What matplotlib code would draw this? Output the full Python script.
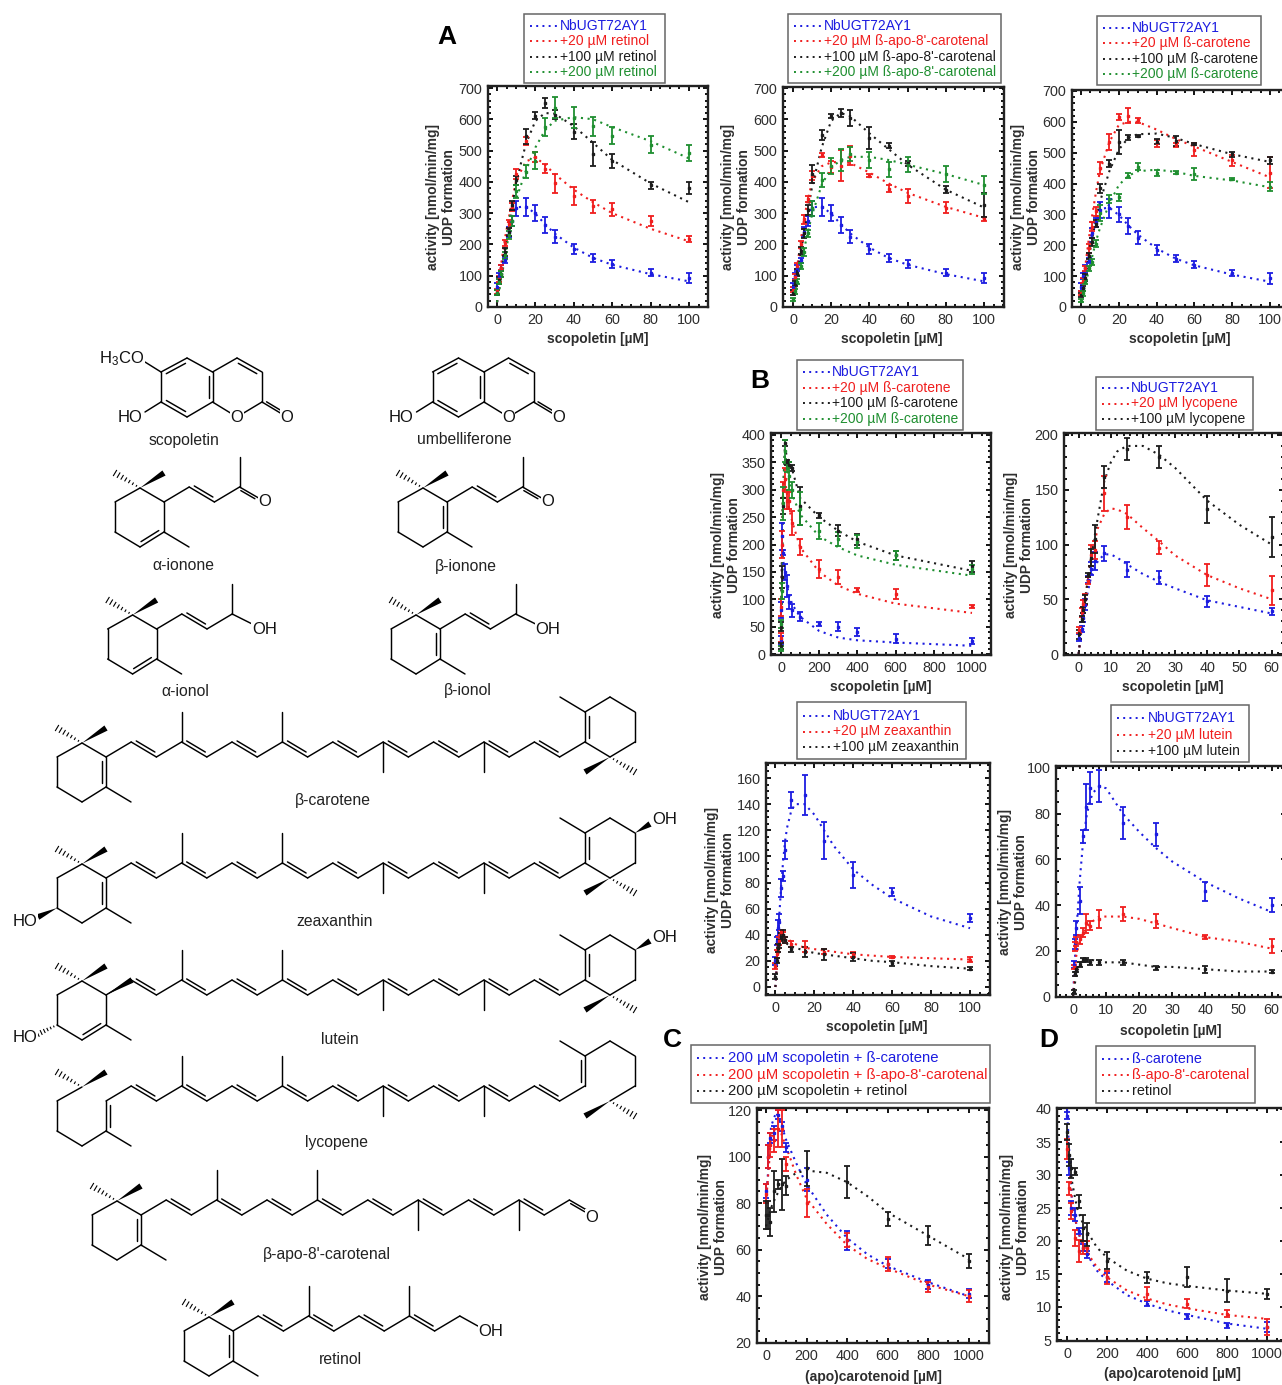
import matplotlib
matplotlib.use('Agg')
import matplotlib.pyplot as plt
from matplotlib.patches import Rectangle, Polygon
from matplotlib.ticker import MultipleLocator

plt.rcParams['font.family'] = ['Liberation Sans', 'DejaVu Sans']
plt.rcParams['mathtext.default'] = 'regular'

BLUE = '#1c1ce0'
RED = '#f01e1e'
BLACK = '#1c1c1c'
GREEN = '#1f8f30'
TXT = '#2e2e2e'

# panel A
A_x = [0, 1, 2, 4, 6, 8, 10, 15, 20, 25, 30, 40, 50, 60, 80, 100]
A_fx = [0, 2, 4, 6, 8, 10, 15, 20, 25, 30, 40, 50, 60, 80, 100]
A_blue = [65, 100, 125, 150, 240, 275, 315, 320, 300, 262, 225, 185, 157, 137, 110, 93]
A_blue_e = [12, 10, 10, 8, 15, 15, 25, 30, 25, 27, 22, 15, 12, 12, 10, 17]
A_blue_f = [15, 110, 190, 255, 295, 318, 322, 298, 265, 235, 190, 157, 135, 105, 82]

A1_red = [50, 90, 125, 205, 265, 320, 425, 530, 480, 442, 395, 355, 322, 312, 275, 218]
A1_red_e = [8, 10, 8, 10, 12, 12, 15, 12, 15, 15, 30, 30, 20, 20, 15, 10]
A1_red_f = [15, 130, 215, 280, 345, 405, 465, 478, 455, 425, 375, 335, 300, 250, 210]
A1_blk = [45, 85, 105, 175, 240, 325, 405, 545, 612, 652, 615, 560, 490, 467, 389, 380]
A1_blk_e = [8, 10, 10, 12, 12, 15, 15, 25, 12, 17, 15, 24, 38, 22, 12, 18]
A1_blk_f = [15, 95, 180, 255, 325, 400, 520, 595, 620, 618, 578, 525, 470, 395, 335]
A1_grn = [45, 80, 105, 165, 230, 275, 370, 433, 468, 575, 637, 605, 577, 548, 518, 492]
A1_grn_e = [8, 8, 10, 10, 12, 15, 20, 20, 26, 28, 33, 34, 30, 28, 27, 26]
A1_grn_f = [15, 80, 155, 225, 290, 345, 435, 510, 565, 595, 607, 600, 575, 530, 475]

A2_red = [55, 95, 130, 200, 280, 345, 420, 485, 448, 452, 484, 420, 378, 355, 318, 282]
A2_red_e = [8, 10, 10, 12, 15, 10, 15, 7, 20, 50, 30, 4, 12, 22, 18, 6]
A2_red_f = [15, 120, 210, 290, 350, 400, 450, 462, 465, 460, 430, 395, 365, 320, 285]
A2_blk = [45, 75, 110, 180, 235, 310, 425, 550, 610, 620, 605, 540, 515, 460, 375, 325]
A2_blk_e = [8, 8, 10, 12, 15, 15, 30, 15, 6, 12, 25, 35, 8, 8, 12, 38]
A2_blk_f = [15, 95, 170, 245, 315, 385, 510, 595, 620, 610, 555, 505, 455, 375, 318]
A2_grn = [25, 50, 80, 130, 175, 235, 315, 405, 450, 470, 490, 470, 440, 455, 425, 390]
A2_grn_e = [5, 8, 8, 10, 12, 12, 25, 22, 25, 35, 22, 25, 25, 25, 25, 28]
A2_grn_f = [15, 70, 130, 190, 245, 295, 390, 445, 470, 480, 480, 470, 455, 425, 390]

A3_red = [45, 85, 125, 190, 260, 310, 450, 535, 615, 620, 605, 530, 525, 510, 475, 435]
A3_red_e = [6, 8, 8, 15, 15, 15, 20, 25, 10, 25, 8, 12, 8, 20, 18, 50]
A3_red_f = [15, 120, 215, 300, 375, 440, 535, 590, 600, 600, 575, 545, 520, 470, 420]
A3_blk = [40, 60, 95, 165, 210, 270, 385, 465, 535, 550, 555, 535, 538, 528, 495, 475]
A3_blk_e = [6, 8, 12, 10, 12, 12, 15, 10, 40, 8, 3, 8, 15, 4, 8, 12]
A3_blk_f = [15, 85, 155, 225, 285, 340, 440, 510, 548, 560, 562, 548, 528, 495, 470]
A3_grn = [20, 45, 80, 125, 145, 205, 305, 350, 355, 425, 455, 435, 435, 430, 415, 390]
A3_grn_e = [5, 8, 6, 8, 10, 12, 25, 12, 10, 8, 12, 10, 5, 20, 3, 15]
A3_grn_f = [15, 65, 115, 165, 215, 255, 335, 395, 425, 440, 445, 438, 425, 410, 388]

# panel B, beta-carotene over a wide range
B1_x = [1, 2, 5, 10, 20, 30, 40, 60, 100, 200, 300, 400, 600, 1000]
B1_fx = [0, 5, 10, 20, 40, 60, 100, 200, 300, 400, 600, 1000]
B1_blue = [25, 80, 215, 185, 150, 125, 95, 80, 68, 55, 50, 40, 28, 24]
B1_blue_e = [8, 15, 25, 5, 15, 20, 12, 12, 8, 4, 8, 7, 8, 6]
B1_blue_f = [5, 190, 175, 150, 110, 90, 68, 42, 30, 25, 21, 15]
B1_red = [30, 85, 200, 300, 320, 280, 280, 240, 195, 155, 140, 117, 110, 87]
B1_red_e = [8, 15, 25, 15, 20, 15, 15, 22, 15, 17, 13, 3, 9, 3]
B1_red_f = [5, 190, 290, 320, 270, 240, 195, 150, 125, 110, 92, 75]
B1_blk = [15, 50, 140, 270, 385, 350, 345, 340, 270, 253, 225, 210, 180, 160]
B1_blk_e = [5, 8, 20, 15, 5, 5, 5, 5, 35, 5, 10, 10, 8, 10]
B1_blk_f = [5, 150, 290, 375, 350, 335, 285, 250, 225, 205, 180, 152]
B1_grn = [10, 55, 115, 275, 370, 340, 325, 300, 265, 225, 210, 205, 180, 155]
B1_grn_e = [5, 8, 15, 30, 20, 8, 25, 15, 30, 15, 12, 12, 8, 8]
B1_grn_f = [5, 130, 275, 370, 320, 290, 255, 215, 195, 180, 163, 143]

# panel B, lycopene
B2_x = [0.2, 1, 1.5, 2, 3, 4, 5, 8, 15, 25, 40, 60]
B2_fx = [0, 1, 2, 4, 6, 8, 10, 12, 15, 20, 25, 30, 40, 50, 60]
B2_blue = [15, 23, 33, 45, 68, 78, 85, 92, 77, 70, 48, 39]
B2_blue_e = [3, 3, 4, 5, 3, 6, 8, 7, 7, 6, 5, 3]
B2_blue_f = [0, 26, 45, 72, 85, 91, 91, 88, 82, 73, 66, 60, 49, 43, 37]
B2_red = [22, 38, 46, 50, 67, 90, 95, 147, 125, 97, 72, 58]
B2_red_e = [3, 4, 3, 5, 3, 10, 8, 16, 11, 6, 10, 13]
B2_red_f = [0, 25, 50, 90, 115, 128, 133, 132, 128, 115, 103, 90, 72, 60, 50]
B2_blk = [18, 32, 40, 50, 72, 88, 105, 162, 187, 180, 132, 107]
B2_blk_e = [4, 3, 3, 4, 2, 8, 13, 10, 10, 10, 12, 18]
B2_blk_f = [0, 25, 50, 90, 125, 158, 175, 185, 190, 190, 182, 170, 140, 118, 100]

# panel B, zeaxanthin
B3_x = [0, 1, 1.5, 2, 3, 4, 5, 8, 15, 25, 40, 60, 100]
B3_fx = [0, 1, 2, 3, 4, 5, 6, 8, 10, 15, 20, 25, 30, 40, 50, 60, 80, 100]
B3_blue = [20, 35, 45, 50, 76, 85, 105, 143, 147, 112, 86, 73, 53]
B3_blue_e = [3, 3, 6, 6, 7, 4, 7, 6, 15, 14, 10, 3, 3]
B3_blue_f = [0, 30, 55, 78, 97, 112, 122, 134, 140, 140, 132, 120, 108, 90, 78, 68, 54, 45]
B3_red = [16, 25, 30, 35, 42, 40, 36, 33, 31, 27, 25, 23, 21]
B3_red_e = [2, 3, 3, 3, 2, 2, 2, 2, 4, 2, 2, 1, 2]
B3_red_f = [0, 22, 33, 38, 39, 38, 37, 35, 33, 30, 29, 28, 27, 25, 24, 23, 22, 21]
B3_blk = [8, 20, 30, 33, 38, 40, 36, 29, 27, 25, 23, 18, 14]
B3_blk_e = [2, 2, 3, 3, 3, 4, 2, 2, 4, 4, 3, 2, 1]
B3_blk_f = [0, 20, 31, 35, 36, 35, 33, 31, 30, 28, 26, 25, 24, 22, 20, 19, 16, 14]

# panel B, lutein
B4_x = [0.2, 0.5, 1, 2, 3, 4, 5, 8, 15, 25, 40, 60]
B4_fx = [0, 1, 2, 3, 4, 5, 6, 8, 10, 15, 20, 25, 30, 40, 50, 60]
B4_blue = [14, 23, 30, 42, 70, 83, 91, 92, 76, 71, 46, 40]
B4_blue_e = [1.5, 2, 3, 6, 3, 10, 7, 7, 7, 5, 4, 3]
B4_blue_f = [0, 28, 50, 67, 78, 85, 89, 92, 91, 80, 72, 65, 59, 50, 43, 37]
B4_red = [13, 22, 24, 25, 28, 32, 31, 34, 36, 33, 26, 22]
B4_red_e = [1, 2, 2, 2, 2, 4, 2, 4, 3, 3, 1, 3]
B4_red_f = [0, 18, 24, 27, 30, 32, 33, 35, 35, 35, 34, 32, 30, 26, 24, 21]
B4_blk = [2, 10, 12, 14, 16, 16, 15, 15, 15, 12.5, 12, 11]
B4_blk_e = [1, 1, 1, 1, 1, 1, 1, 1, 1, 0.7, 1.5, 0.5]
B4_blk_f = [0, 10, 14, 15, 16, 16, 16, 15, 15, 15, 14, 13, 13, 12, 11, 11]

# panels C and D
CD_x = [1, 10, 20, 40, 60, 80, 100, 200, 400, 600, 800, 1000]
CD_fx = [0, 25, 50, 75, 100, 150, 200, 300, 400, 500, 600, 800, 1000]
C_blue = [85, 100, 108, 110, 118, 113, 104, 90, 64, 54, 45, 41]
C_blue_e = [3, 5, 2, 3, 2, 2, 2, 5, 4, 2, 2, 2]
C_blue_f = [80, 113, 119, 114, 107, 97, 88, 75, 65, 58, 53, 46, 40]
C_red = [84, 100, 105, 107, 112, 112, 97, 80, 64, 54, 44, 40]
C_red_e = [4, 5, 5, 5, 8, 8, 3, 6, 3, 3, 2, 2.5]
C_red_f = [80, 108, 113, 110, 104, 92, 82, 71, 62, 56, 52, 45, 40]
C_blk = [75, 75, 72, 85, 88, 88, 87.5, 95, 89, 73, 66, 55]
C_blk_e = [6, 6, 6, 9, 2, 11, 4, 7.5, 7, 3, 4, 3]
C_blk_f = [70, 78, 83, 87, 90, 93, 94, 93, 89, 83, 76, 66, 56]

D_blue = [39, 31, 25, 24, 21.5, 19, 18, 14.5, 10.5, 8.6, 7.2, 7]
D_blue_e = [0.5, 1, 1, 1, 0.5, 0.5, 0.5, 0.7, 0.4, 0.4, 0.4, 0.8]
D_blue_f = [40, 26, 22, 19.5, 18, 15.5, 14, 11.8, 10.5, 9.5, 8.8, 7.5, 6.7]
D_red = [34, 28, 24.5, 20.5, 18.5, 19, 19, 14.5, 12, 10.5, 9, 7]
D_red_e = [1.5, 1, 1.2, 1.2, 1.7, 1, 1, 1, 1, 0.7, 0.5, 1.2]
D_red_f = [36, 26, 22, 19.8, 18.3, 16, 14.5, 12.5, 11.3, 10.4, 9.8, 8.8, 8.2]
D_blk = [36.5, 33, 31, 30.5, 26, 22, 21, 17, 14.5, 14.5, 12.5, 12]
D_blk_e = [1.2, 1.7, 1.5, 0.5, 1, 2, 1.7, 1.3, 0.8, 1.5, 1.7, 0.8]
D_blk_f = [36, 29, 25, 23, 21.5, 19, 17.5, 15.5, 14.3, 13.6, 13.2, 12.5, 12]

W, H = 1282, 1385
fig = plt.figure(figsize=(W / 100, H / 100), dpi=100)
ov = fig.add_axes([0, 0, 1, 1])
ov.set_xlim(0, W)
ov.set_ylim(H, 0)
ov.axis('off')


def panel(box, xcal, ycal, xt, yt, xloc, yloc, series, legend, xlab, ylab, legfs=10):
    # box = left,right,top,bottom in px, xcal/ycal = (value,px,value,px)
    l, r, t, b = box
    ax = fig.add_axes([l / W, 1 - b / H, (r - l) / W, (b - t) / H])
    sx = (xcal[3] - xcal[1]) / (xcal[2] - xcal[0])
    sy = (ycal[3] - ycal[1]) / (ycal[2] - ycal[0])
    ax.set_xlim(xcal[0] + (l - xcal[1]) / sx, xcal[0] + (r - xcal[1]) / sx)
    ax.set_ylim(ycal[0] + (b - ycal[1]) / sy, ycal[0] + (t - ycal[1]) / sy)
    for x, y, e, fx, fy, c in series:
        ax.plot(fx, fy, color=c, lw=1.5, ls=(0, (1, 2.2)), zorder=2)
        ax.errorbar(x, y, yerr=e, fmt='s', ms=1.8, color=c, elinewidth=1.3,
                    capsize=2.2, capthick=1.3, zorder=3)
    ax.set_xticks(xt)
    ax.set_yticks(yt)
    ax.xaxis.set_minor_locator(MultipleLocator(xloc))
    ax.yaxis.set_minor_locator(MultipleLocator(yloc))
    ax.tick_params(which='both', direction='in', top=True, right=True, width=1.3)
    ax.tick_params(which='major', length=3.5, labelsize=10.4, labelcolor=TXT, pad=4)
    ax.tick_params(which='minor', length=2)
    for s in ax.spines.values():
        s.set_linewidth(1.7)
        s.set_color('#222222')
    # legend box, drawn by hand so it sits where the original one does
    lb, lx0, ly0, ly1, entries = legend
    ov.add_patch(Rectangle((lb[0], lb[2]), lb[1] - lb[0], lb[3] - lb[2], fc='white',
                           ec='#666666', lw=1.1))
    dy = (ly1 - ly0) / max(len(entries) - 1, 1)
    for i, (txt, c) in enumerate(entries):
        yy = ly0 + i * dy
        ov.plot([lb[0] + 6, lx0 - 2], [yy, yy], color=c, lw=1.4, ls=(0, (1, 2.2)))
        ov.text(lx0, yy, txt, color=c, fontsize=legfs, ha='left', va='center')
    ov.text(xlab[0], xlab[1], xlab[2], fontsize=10, fontweight='bold', color=TXT,
            ha='center', va='center')
    ov.text(ylab[0], ylab[1], 'activity [nmol/min/mg]\nUDP formation', fontsize=9.9,
            fontweight='bold', color=TXT, rotation=90, ha='center', va='center',
            multialignment='center', linespacing=1.15)
    return ax


A_xt = [0, 20, 40, 60, 80, 100]
A_yt = [0, 100, 200, 300, 400, 500, 600, 700]
W_xt = [0, 200, 400, 600, 800, 1000]
S_xt = [0, 10, 20, 30, 40, 50, 60]
sc = 'scopoletin [µM]'
ac = '(apo)carotenoid [µM]'

panel((488, 708, 86, 307), (0, 497, 100, 689), (0, 307, 700, 88), A_xt, A_yt, 5, 20,
      [(A_x, A_blue, A_blue_e, A_fx, A_blue_f, BLUE), (A_x, A1_red, A1_red_e, A_fx, A1_red_f, RED),
       (A_x, A1_blk, A1_blk_e, A_fx, A1_blk_f, BLACK), (A_x, A1_grn, A1_grn_e, A_fx, A1_grn_f, GREEN)],
      ((524, 665, 14, 83), 560, 26, 72,
       [('NbUGT72AY1', BLUE), ('+20 µM retinol', RED), ('+100 µM retinol', BLACK), ('+200 µM retinol', GREEN)]),
      (598, 339, sc), (441, 197))

panel((783, 1004, 87, 307), (0, 793, 100, 984), (0, 307, 700, 88), A_xt, A_yt, 5, 20,
      [(A_x, A_blue, A_blue_e, A_fx, A_blue_f, BLUE), (A_x, A2_red, A2_red_e, A_fx, A2_red_f, RED),
       (A_x, A2_blk, A2_blk_e, A_fx, A2_blk_f, BLACK), (A_x, A2_grn, A2_grn_e, A_fx, A2_grn_f, GREEN)],
      ((788, 1001, 14, 83), 824, 26, 72,
       [('NbUGT72AY1', BLUE), ("+20 µM ß-apo-8'-carotenal", RED), ("+100 µM ß-apo-8'-carotenal", BLACK),
        ("+200 µM ß-apo-8'-carotenal", GREEN)]),
      (892, 339, sc), (736, 197))

panel((1072, 1292, 90, 307), (0, 1081, 100, 1270), (0, 307, 700, 91), A_xt, A_yt, 5, 20,
      [(A_x, A_blue, A_blue_e, A_fx, A_blue_f, BLUE), (A_x, A3_red, A3_red_e, A_fx, A3_red_f, RED),
       (A_x, A3_blk, A3_blk_e, A_fx, A3_blk_f, BLACK), (A_x, A3_grn, A3_grn_e, A_fx, A3_grn_f, GREEN)],
      ((1097, 1261, 16, 85), 1132, 28, 74,
       [('NbUGT72AY1', BLUE), ('+20 µM ß-carotene', RED), ('+100 µM ß-carotene', BLACK), ('+200 µM ß-carotene', GREEN)]),
      (1180, 339, sc), (1026, 197))

panel((771, 991, 433, 655), (0, 781, 1000, 972), (0, 654, 400, 435), W_xt,
      [0, 50, 100, 150, 200, 250, 300, 350, 400], 50, 10,
      [(B1_x, B1_blue, B1_blue_e, B1_fx, B1_blue_f, BLUE), (B1_x, B1_red, B1_red_e, B1_fx, B1_red_f, RED),
       (B1_x, B1_blk, B1_blk_e, B1_fx, B1_blk_f, BLACK), (B1_x, B1_grn, B1_grn_e, B1_fx, B1_grn_f, GREEN)],
      ((797, 963, 360, 430), 832, 372, 419,
       [('NbUGT72AY1', BLUE), ('+20 µM ß-carotene', RED), ('+100 µM ß-carotene', BLACK), ('+200 µM ß-carotene', GREEN)]),
      (881, 687, sc), (726, 545))

panel((1064, 1284, 433, 655), (0, 1078.6, 60, 1271.6), (0, 654, 200, 435), S_xt,
      [0, 50, 100, 150, 200], 2, 10,
      [(B2_x, B2_blue, B2_blue_e, B2_fx, B2_blue_f, BLUE), (B2_x, B2_red, B2_red_e, B2_fx, B2_red_f, RED),
       (B2_x, B2_blk, B2_blk_e, B2_fx, B2_blk_f, BLACK)],
      ((1096, 1253, 377, 430), 1131, 388, 419,
       [('NbUGT72AY1', BLUE), ('+20 µM lycopene', RED), ('+100 µM lycopene', BLACK)]),
      (1173, 687, sc), (1019, 545))

panel((766, 990, 763, 995), (0, 775.4, 100, 970), (0, 987, 160, 778), A_xt,
      [0, 20, 40, 60, 80, 100, 120, 140, 160], 5, 5,
      [(B3_x, B3_blue, B3_blue_e, B3_fx, B3_blue_f, BLUE), (B3_x, B3_red, B3_red_e, B3_fx, B3_red_f, RED),
       (B3_x, B3_blk, B3_blk_e, B3_fx, B3_blk_f, BLACK)],
      ((796.5, 966, 702, 759), 833, 716, 747,
       [('NbUGT72AY1', BLUE), ('+20 µM zeaxanthin', RED), ('+100 µM zeaxanthin', BLACK)]),
      (877, 1027, sc), (720, 880))

panel((1056, 1286, 766, 997), (0, 1073, 60, 1271.6), (0, 996.7, 100, 767.7), S_xt,
      [0, 20, 40, 60, 80, 100], 2, 5,
      [(B4_x, B4_blue, B4_blue_e, B4_fx, B4_blue_f, BLUE), (B4_x, B4_red, B4_red_e, B4_fx, B4_red_f, RED),
       (B4_x, B4_blk, B4_blk_e, B4_fx, B4_blk_f, BLACK)],
      ((1111, 1249, 705, 762), 1148, 718, 751,
       [('NbUGT72AY1', BLUE), ('+20 µM lutein', RED), ('+100 µM lutein', BLACK)]),
      (1171, 1031, sc), (1013, 882))

panel((757, 989, 1108, 1343), (0, 766, 1000, 968.6), (20, 1342.7, 120, 1110), W_xt,
      [20, 40, 60, 80, 100, 120], 50, 5,
      [(CD_x, C_blue, C_blue_e, CD_fx, C_blue_f, BLUE), (CD_x, C_red, C_red_e, CD_fx, C_red_f, RED),
       (CD_x, C_blk, C_blk_e, CD_fx, C_blk_f, BLACK)],
      ((691, 990, 1045, 1103), 728, 1058, 1091,
       [('200 µM scopoletin + ß-carotene', BLUE), ("200 µM scopoletin + ß-apo-8'-carotenal", RED),
        ('200 µM scopoletin + retinol', BLACK)]),
      (873, 1377, ac), (713, 1227), legfs=10.7)

panel((1057, 1285, 1108, 1341), (0, 1067, 1000, 1267), (5, 1340, 40, 1109), W_xt,
      [5, 10, 15, 20, 25, 30, 35, 40], 50, 1,
      [(CD_x, D_blue, D_blue_e, CD_fx, D_blue_f, BLUE), (CD_x, D_red, D_red_e, CD_fx, D_red_f, RED),
       (CD_x, D_blk, D_blk_e, CD_fx, D_blk_f, BLACK)],
      ((1095.5, 1255, 1046, 1103), 1132, 1059, 1091,
       [('ß-carotene', BLUE), ("ß-apo-8'-carotenal", RED), ('retinol', BLACK)]),
      (1172, 1374, ac), (1015, 1227), legfs=10.4)

for letter, lx, ly in [('A', 447, 37), ('B', 760, 381), ('C', 672, 1040), ('D', 1049, 1040)]:
    ov.text(lx, ly, letter, fontsize=19, fontweight='bold', color='black', ha='center', va='center')


# chemical structures
def bond(p, q):
    ov.plot([p[0], q[0]], [p[1], q[1]], color='black', lw=1.05, solid_capstyle='round')


def dbl(p, q, side=1, off=4.0):
    bond(p, q)
    dx, dy = q[0] - p[0], q[1] - p[1]
    n = (dx * dx + dy * dy) ** 0.5
    ox, oy = -dy / n * off * side, dx / n * off * side
    bond((p[0] + ox + dx * 0.13, p[1] + oy + dy * 0.13), (q[0] + ox - dx * 0.13, q[1] + oy - dy * 0.13))


def wedge(p, q, w=3.0):
    dx, dy = q[0] - p[0], q[1] - p[1]
    n = (dx * dx + dy * dy) ** 0.5
    ox, oy = -dy / n * w, dx / n * w
    ov.add_patch(Polygon([p, (q[0] + ox, q[1] + oy), (q[0] - ox, q[1] - oy)], fc='black', ec='none'))


def hashed(p, q, w=3.0, k=7):
    dx, dy = q[0] - p[0], q[1] - p[1]
    n = (dx * dx + dy * dy) ** 0.5
    for i in range(1, k + 1):
        f = i / k
        ox, oy = -dy / n * w * f, dx / n * w * f
        ov.plot([p[0] + dx * f + ox, p[0] + dx * f - ox], [p[1] + dy * f + oy, p[1] + dy * f - oy],
                color='black', lw=0.8)


def chem(x, y, s, fs=12):
    ov.text(x, y, s, fontsize=fs, color='#111111', ha='center', va='center',
            bbox=dict(fc='white', ec='none', pad=0.4), zorder=5)


def left_ring(dx, dy, kind='beta'):
    s = lambda x, y: (x + dx, y + dy)
    G, a, b, c, d, e = s(82, 743), s(57, 757), s(57, 787), s(82, 802), s(106, 787), s(106, 757)
    if kind != 'open':
        bond(G, e)
    bond(G, a)
    bond(a, b)
    bond(b, c)
    wedge(G, s(106, 728))
    hashed(G, s(57, 728))
    bond(d, s(131, 802))
    if kind == 'alpha':
        dbl(c, d, -1)
        bond(d, e)
    else:
        bond(c, d)
        dbl(d, e, -1 if kind == 'beta' else 1)


def right_ring(dx, dy, kind='beta', oh=False):
    s = lambda x, y: (x + dx, y + dy)
    a, b, c, d, e, G = s(585, 742), s(585, 712), s(610, 697), s(635, 712), s(635, 742), s(610, 757)
    dbl(a, b, -1 if kind == 'open' else 1)
    bond(b, s(560, 697))
    bond(b, c)
    bond(c, d)
    bond(d, e)
    bond(e, G)
    if kind != 'open':
        bond(a, G)
    wedge(G, s(585, 772))
    hashed(G, s(635, 772))
    if oh:
        wedge(d, s(650, 703))
        chem(665 + dx, 699 + dy, 'OH')


def polyene(dx, dy, n, doubles, up=(), down=()):
    pts = [(106 + dx + 25.2 * i, 757 + dy - 15 * (i % 2)) for i in range(n + 1)]
    for i in range(n):
        if i in doubles:
            dbl(pts[i], pts[i + 1], -1, 3.5)
        else:
            bond(pts[i], pts[i + 1])
    for i in up:
        bond(pts[i], (pts[i][0], pts[i][1] - 30))
    for i in down:
        bond(pts[i], (pts[i][0], pts[i][1] + 30))
    return pts


FULL = (1, 3, 5, 7, 9, 11, 13, 15, 17)


def carotenoid(dy, lk, rk, roh=False):
    left_ring(0, dy, lk)
    polyene(0, dy, 19, FULL, up=(3, 7), down=(11, 15))
    right_ring(0, dy, rk, roh)


def ionone(dx, dy, kind, alcohol):
    left_ring(dx, dy, kind)
    p = polyene(dx, dy, 3, (1,), up=(3,))
    if alcohol:
        bond(p[3], (p[3][0] + 20, p[3][1] + 10))
        chem(p[3][0] + 32, p[3][1] + 15, 'OH')
    else:
        dbl(p[3], (p[3][0] + 19, p[3][1] + 11), 1, 2.5)
        chem(p[3][0] + 25, p[3][1] + 14, 'O')


def coumarin(dx, methoxy):
    s = lambda x, y: (x + dx, y)
    dbl(s(187, 358), s(161, 372), -1)
    bond(s(187, 358), s(212.5, 372))
    dbl(s(212.5, 372), s(212.5, 402), 1)
    dbl(s(187, 417), s(161, 402), 1)
    bond(s(187, 417), s(212.5, 402))
    bond(s(161, 372), s(161, 402))
    bond(s(212.5, 372), s(237, 358))
    dbl(s(237, 358), s(262, 372), 1)
    bond(s(262, 372), s(262, 402))
    bond(s(262, 402), s(237, 417))
    bond(s(212.5, 402), s(237, 417))
    dbl(s(262, 402), s(287, 417), -1, 2.5)
    bond(s(161, 402), s(145, 412))
    chem(130 + dx, 417, 'HO')
    chem(237 + dx, 417, 'O')
    chem(287 + dx, 417, 'O')
    if methoxy:
        bond(s(161, 372), s(145, 362))
        chem(122 + dx, 359, 'H$_3$CO')


coumarin(0, True)
coumarin(271.5, False)
ionone(58, -255, 'alpha', False)
ionone(341, -255, 'beta', False)
ionone(50.6, -128, 'alpha', True)
ionone(334, -128, 'beta', True)
carotenoid(0, 'beta', 'beta')
carotenoid(121, 'beta', 'beta', True)
carotenoid(238, 'alpha', 'beta', True)
carotenoid(344, 'open', 'open')

# hydroxyls on the left rings of zeaxanthin and lutein
wedge((57, 908), (38, 917))
chem(25, 921, 'HO')
hashed((57, 1025), (38, 1034), 2.5, 6)
chem(25, 1038, 'HO')
wedge((106, 995), (132, 980))

# apo-carotenal
left_ring(35, 458)
ap = polyene(35, 458, 17, (1, 3, 5, 7, 9, 11, 13, 15), up=(3, 7), down=(11, 15))
dbl(ap[17], (ap[17][0] + 19, ap[17][1] + 11), 1, 2.5)
chem(592, 1217, 'O')

# retinol
left_ring(127, 574)
rp = polyene(127, 574, 9, (1, 3, 5, 7), up=(3, 7))
bond(rp[9], (rp[9][0] + 18, rp[9][1] + 10))
chem(491, 1332, 'OH')

labels = [('scopoletin', 184, 440), ('umbelliferone', 464, 439), ('α-ionone', 183, 566), ('β-ionone', 466, 566),
          ('α-ionol', 185, 691), ('β-ionol', 468, 691), ('β-carotene', 333, 800), ('zeaxanthin', 335, 921),
          ('lutein', 340, 1039), ('lycopene', 337, 1143), ("β-apo-8'-carotenal", 327, 1255), ('retinol', 340, 1360)]
for name, lx, ly in labels:
    ov.text(lx, ly, name, fontsize=11.3, color='#222222', ha='center', va='center')

fig.savefig('out.png', dpi=100)
